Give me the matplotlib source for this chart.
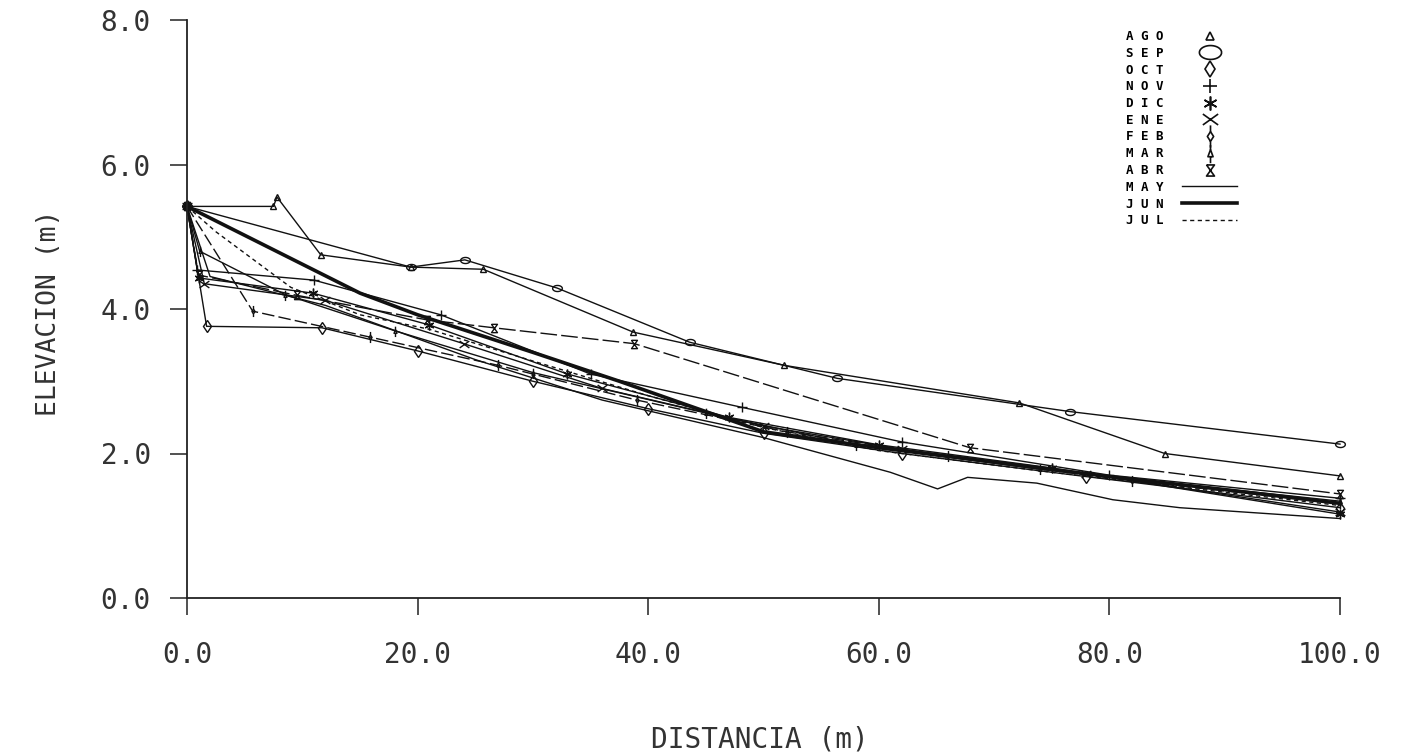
import matplotlib
matplotlib.use("Agg")
import numpy as np
import matplotlib.pyplot as plt
from matplotlib.path import Path
from matplotlib.lines import Line2D
from matplotlib.font_manager import FontProperties

# ---- beach profile surveys: distance (m) vs elevation (m) ----
months = ["AGO", "SEP", "OCT", "NOV", "DIC", "ENE", "FEB", "MAR", "ABR", "MAY", "JUN", "JUL"]

dist_ago = [0, 7.5, 7.8, 11.6, 19.4, 25.7, 38.7, 51.8, 72.2, 84.8, 100]
elev_ago = [5.42, 5.42, 5.55, 4.75, 4.58, 4.55, 3.68, 3.22, 2.70, 2.00, 1.69]

dist_sep = [0, 19.4, 24.1, 32.1, 43.6, 56.4, 76.6, 100]
elev_sep = [5.42, 4.58, 4.68, 4.29, 3.54, 3.04, 2.58, 2.13]

dist_oct = [0, 1.7, 11.7, 20, 30, 40, 50, 62, 78, 100]
elev_oct = [5.42, 3.76, 3.74, 3.42, 3.00, 2.62, 2.28, 2.00, 1.68, 1.25]

dist_nov = [0, 0.9, 11, 22, 35, 48.1, 62, 80, 100]
elev_nov = [5.42, 4.54, 4.40, 3.92, 3.10, 2.64, 2.16, 1.70, 1.38]

dist_dic = [0, 1.0, 10.9, 21, 33, 47, 60, 75, 100]
elev_dic = [5.42, 4.43, 4.22, 3.78, 3.10, 2.50, 2.12, 1.80, 1.16]

dist_ene = [0, 1.5, 12, 24, 36, 50, 62, 78, 100]
elev_ene = [5.42, 4.35, 4.12, 3.52, 2.90, 2.38, 2.06, 1.72, 1.19]

dist_feb = [0, 5.7, 15.9, 27, 39, 52, 66, 82, 100]
elev_feb = [5.42, 3.97, 3.61, 3.22, 2.74, 2.30, 1.96, 1.62, 1.31]

dist_mar = [0, 1.1, 8.5, 18, 30, 45, 58, 74, 100]
elev_mar = [5.42, 4.80, 4.20, 3.70, 3.12, 2.56, 2.12, 1.78, 1.34]

dist_abr = [0, 1.0, 9.5, 20.8, 26.6, 38.8, 67.9, 100]
elev_abr = [5.42, 4.47, 4.19, 3.85, 3.74, 3.52, 2.08, 1.44]

dist_may = [0, 2.0, 12, 25, 36, 50, 61, 65.1, 67.7, 73.7, 80.3, 86.1, 100]
elev_may = [5.42, 4.45, 4.05, 3.30, 2.74, 2.22, 1.74, 1.51, 1.67, 1.59, 1.36, 1.25, 1.10]

dist_jun = [0, 15, 20, 30, 37.5, 50, 60, 70, 80, 90, 100]
elev_jun = [5.42, 4.22, 3.92, 3.40, 3.00, 2.30, 2.08, 1.88, 1.68, 1.50, 1.31]

dist_jul = [0, 2.5, 9, 15, 21, 30, 40, 50, 60, 75, 100]
elev_jul = [5.42, 5.07, 4.30, 3.92, 3.72, 3.28, 2.80, 2.36, 2.04, 1.74, 1.28]

x_ticks = [0, 20, 40, 60, 80, 100]
x_tick_labels = ["0.0", "20.0", "40.0", "60.0", "80.0", "100.0"]
y_ticks = [0, 2, 4, 6, 8]
y_tick_labels = ["0.0", "2.0", "4.0", "6.0", "8.0"]

INK = "#111111"
TEXT = "#333333"


# ---- plotter-style symbols ----
def open_path(segments):
    verts, codes = [], []
    for seg in segments:
        for i, p in enumerate(seg):
            verts.append(p)
            codes.append(Path.MOVETO if i == 0 else Path.LINETO)
    return Path(verts, codes)


t = np.linspace(0, 2 * np.pi, 40)
ellipse = Path(np.column_stack([0.8 * np.cos(t), 0.5 * np.sin(t)]))
wide_x = open_path([[(-0.7, -0.5), (0.7, 0.5)], [(-0.7, 0.5), (0.7, -0.5)]])
diamond_stem = open_path([[(0, -1.6), (0, -0.7), (0.45, 0), (0, 0.7), (-0.45, 0), (0, -0.7)],
                          [(0, 0.7), (0, 1.6)]])
tri_stem = open_path([[(0, -1.5), (0, -0.5), (-0.4, -0.5), (0, 0.6), (0.4, -0.5), (0, -0.5)],
                      [(0, 0.6), (0, 1.3)]])
hourglass = open_path([[(-0.5, 0.7), (0.5, 0.7), (-0.5, -0.7), (0.5, -0.7), (-0.5, 0.7)]])
asterisk = (6, 2, 0)

# (distance, elevation, symbol, size on plot, size in key)
series = [
    (dist_ago, elev_ago, "^", 5, 6),
    (dist_sep, elev_sep, ellipse, 7, 16),
    (dist_oct, elev_oct, "d", 6, 8),
    (dist_nov, elev_nov, "+", 7, 10),
    (dist_dic, elev_dic, asterisk, 7, 10),
    (dist_ene, elev_ene, wide_x, 7, 11),
    (dist_feb, elev_feb, diamond_stem, 8, 16),
    (dist_mar, elev_mar, tri_stem, 8, 14),
    (dist_abr, elev_abr, hourglass, 6, 8),
]
line_series = [
    (dist_may, elev_may, dict(lw=1.0, ls="-")),
    (dist_jun, elev_jun, dict(lw=2.6, ls="-")),
    (dist_jul, elev_jul, dict(lw=1.0, ls=(0, (3, 2.5)))),
]
dash_long = {6: (0, (9, 3)), 8: (0, (12, 3))}

fig = plt.figure(figsize=(14.02, 7.54), dpi=100)
ax = fig.add_axes([187 / 1402, 156 / 754, 1153 / 1402, 578 / 754])

for i, (x, y, mk, ms, _) in enumerate(series):
    ls = dash_long.get(i, "-")
    ax.plot(x, y, color=INK, lw=1.0, ls=ls, marker=mk, ms=ms,
            mfc="none", mec=INK, mew=1.0, clip_on=False)
for x, y, st in line_series:
    ax.plot(x, y, color=INK, clip_on=False, **st)

ax.set_xlim(0, 100)
ax.set_ylim(0, 8)
for side in ("top", "right"):
    ax.spines[side].set_visible(False)
for side in ("left", "bottom"):
    ax.spines[side].set_linewidth(1.3)
    ax.spines[side].set_color("#222222")

tick_font = FontProperties(family="DejaVu Sans Mono", size=20)
ax.set_xticks(x_ticks)
ax.set_xticklabels(x_tick_labels, fontproperties=tick_font, color=TEXT)
ax.set_yticks(y_ticks)
ax.set_yticklabels(y_tick_labels, fontproperties=tick_font, color=TEXT)
ax.tick_params(axis="x", direction="out", length=12, width=1.1, pad=19, colors="#222222")
ax.tick_params(axis="y", direction="out", length=12, width=1.1, pad=14, colors="#222222")
for lab in ax.get_xticklabels() + ax.get_yticklabels():
    lab.set_color(TEXT)

ax.set_xlabel("DISTANCIA (m)", fontproperties=FontProperties(family="DejaVu Sans Mono", size=20),
              color=TEXT)
ax.xaxis.set_label_coords(0.4965, -0.22)
ax.set_ylabel("ELEVACION (m)", fontproperties=FontProperties(family="DejaVu Sans Mono", size=19),
              color=TEXT)
ax.yaxis.set_label_coords(-0.108, 0.493)

# ---- key: label first, then symbol ----
handles = []
for x, y, mk, ms, lms in series:
    handles.append(Line2D([], [], color=INK, ls="none", marker=mk, ms=lms,
                          mfc="none", mec=INK, mew=1.2))
for x, y, st in line_series:
    handles.append(Line2D([], [], color=INK, **st))
labels = [" ".join(m) for m in months]
leg = ax.legend(handles, labels, loc="upper left",
                bbox_to_anchor=(1126 / 1402, 1 - 30 / 754), bbox_transform=fig.transFigure,
                frameon=False, markerfirst=False, borderpad=0, borderaxespad=0,
                handlelength=4.4, handletextpad=1.5, labelspacing=0.30,
                prop=FontProperties(family="DejaVu Sans Mono", weight="bold", size=9))

fig.savefig("out.png", dpi=100, facecolor="white")
